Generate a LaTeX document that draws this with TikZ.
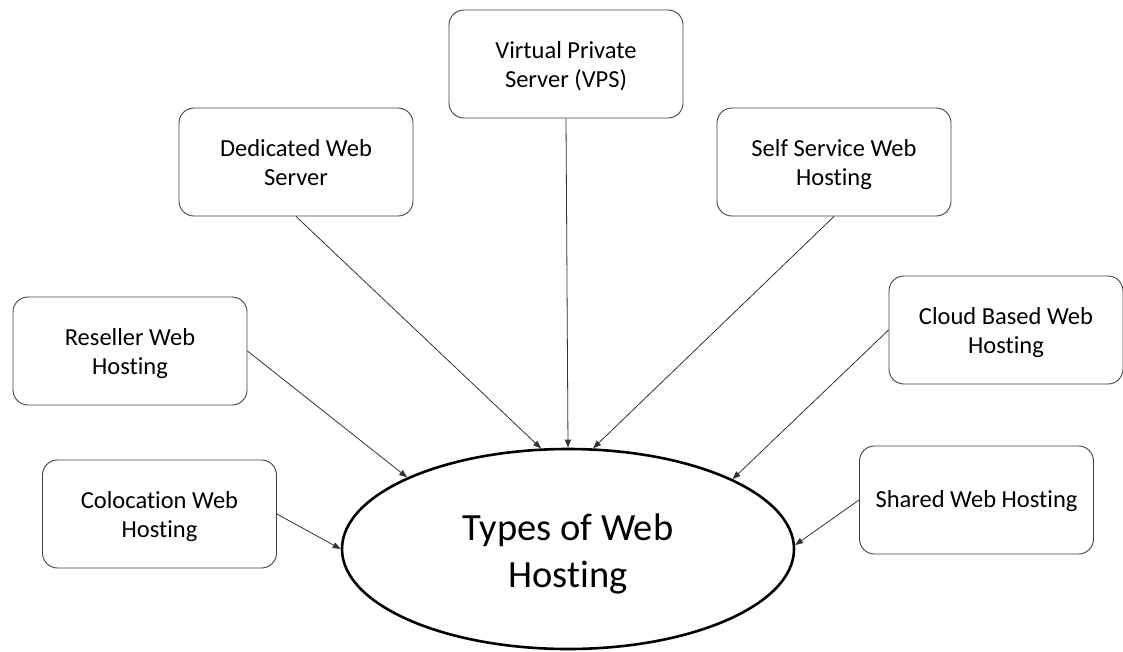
\documentclass[tikz,border=0pt]{standalone}
\usepackage{fontspec}
\setmainfont{Carlito}[Ligatures=NoCommon,RawFeature={-calt;-dlig}]
\usetikzlibrary{arrows.meta,shapes.geometric}
\newcommand\lowtext[2]{\raisebox{#1}[\height][\depth]{\begin{tabular}{@{}c@{}}#2\end{tabular}}}
\tikzset{
  hostbox/.style={draw=black!75, line width=0.9pt, rounded corners=15pt, minimum width=234pt, minimum height=108pt, inner sep=0pt, font=\fontsize{24.5}{29}\selectfont},
  hub/.style={draw=black, ellipse, line width=2.6pt, minimum width=452pt, minimum height=200pt, inner sep=0pt, font=\fontsize{38.5}{47}\selectfont},
  link/.style={draw=black!80, line width=0.8pt, -{Triangle[length=8pt,width=6pt]}}
}
\begin{document}
\begin{tikzpicture}[x=1pt,y=-1pt]
\useasboundingbox (0,0) rectangle (1123,651);
\node[hub] (hub) at (568,549) {\lowtext{-6pt}{Types of Web\\Hosting}};
\node[hostbox] (vps) at (566,64) {\lowtext{-3pt}{Virtual Private\\Server (VPS)}};
\node[hostbox] (ded) at (296,162) {\lowtext{-3pt}{Dedicated Web\\Server}};
\node[hostbox] (self) at (834,162) {\lowtext{-3pt}{Self Service Web\\Hosting}};
\node[hostbox] (res) at (130,351) {\lowtext{-3pt}{Reseller Web\\Hosting}};
\node[hostbox] (cloud) at (1006,330) {\lowtext{-3pt}{Cloud Based Web\\Hosting}};
\node[hostbox] (colo) at (159.5,514) {\lowtext{-3pt}{Colocation Web\\Hosting}};
\node[hostbox] (shared) at (976.5,500) {\lowtext{-2pt}{Shared Web Hosting}};
\draw[link] (vps.south) -- (hub.90);
\draw[link] (ded.south) -- (hub.105);
\draw[link] (self.south) -- (hub.76);
\draw[link] (res.east) -- (hub.156);
\draw[link] (cloud.west) -- (hub.23);
\draw[link] (colo.east) -- (hub.180);
\draw[link] (shared.west) -- (hub.1);
\end{tikzpicture}
\end{document}
